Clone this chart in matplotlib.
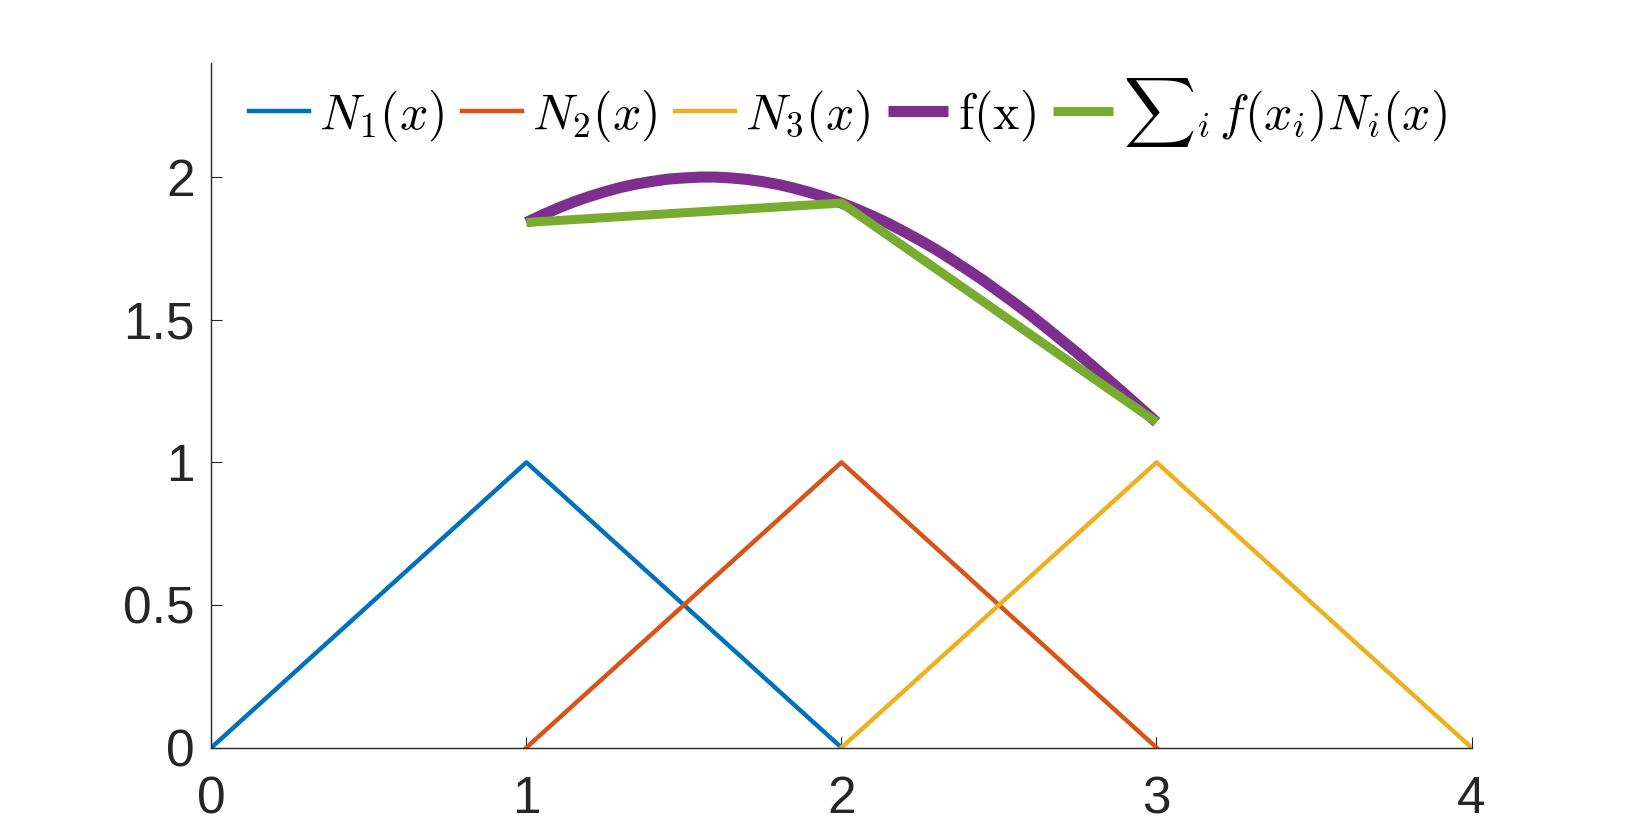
import matplotlib
matplotlib.use("Agg")
import matplotlib.pyplot as plt

# Hat basis functions (nodes and values)
n1_x = [0, 1, 2]
n1_y = [0, 1, 0]
n2_x = [1, 2, 3]
n2_y = [0, 1, 0]
n3_x = [2, 3, 4]
n3_y = [0, 1, 0]

# f(x)
f_x = [1.00, 1.05, 1.10, 1.15, 1.20, 1.25, 1.30, 1.35, 1.40, 1.45, 1.50,
       1.55, 1.60, 1.65, 1.70, 1.75, 1.80, 1.85, 1.90, 1.95, 2.00,
       2.05, 2.10, 2.15, 2.20, 2.25, 2.30, 2.35, 2.40, 2.45, 2.50,
       2.55, 2.60, 2.65, 2.70, 2.75, 2.80, 2.85, 2.90, 2.95, 3.00]
f_y = [1.841, 1.867, 1.891, 1.913, 1.932, 1.949, 1.964, 1.976, 1.985, 1.993, 1.997,
       2.000, 2.000, 1.997, 1.992, 1.984, 1.974, 1.961, 1.946, 1.929, 1.909,
       1.887, 1.863, 1.837, 1.808, 1.778, 1.746, 1.711, 1.675, 1.638, 1.598,
       1.558, 1.516, 1.472, 1.427, 1.382, 1.335, 1.287, 1.239, 1.190, 1.141]

# Interpolant values at nodes
interp_x = [1, 2, 3]
interp_y = [1.841, 1.909, 1.141]

labels = [r'$N_1(x)$', r'$N_2(x)$', r'$N_3(x)$', r'$\mathrm{f(x)}$',
          r'${\sum}_i\, f(x_i) N_i(x)$']
colors = ['#0072BD', '#D95319', '#EDB120', '#7E2F8E', '#77AC30']

xticks = [0, 1, 2, 3, 4]
yticks = [0, 0.5, 1, 1.5, 2]
ytick_labels = ['0', '0.5', '1', '1.5', '2']

plt.rcParams['mathtext.fontset'] = 'cm'
plt.rcParams['font.family'] = ['Liberation Sans', 'DejaVu Sans']

fig = plt.figure(figsize=(16.26, 8.4), dpi=100)
ax = fig.add_axes([0.13, 0.11, 0.775, 0.815])

ax.plot(n1_x, n1_y, color=colors[0], lw=3.2, label=labels[0])
ax.plot(n2_x, n2_y, color=colors[1], lw=3.2, label=labels[1])
ax.plot(n3_x, n3_y, color=colors[2], lw=3.2, label=labels[2])
ax.plot(f_x, f_y, color=colors[3], lw=8, label=labels[3], solid_capstyle='butt')
ax.plot(interp_x, interp_y, color=colors[4], lw=6.5, label=labels[4],
        solid_capstyle='butt')

ax.set_xlim(0, 4)
ax.set_ylim(0, 2.4)
ax.set_xticks(xticks)
ax.set_xticklabels([str(t) for t in xticks])
ax.set_yticks(yticks)
ax.set_yticklabels(ytick_labels)

for s in ['top', 'right']:
    ax.spines[s].set_visible(False)
for s in ['left', 'bottom']:
    ax.spines[s].set_color('#262626')
    ax.spines[s].set_linewidth(1.0)

ax.tick_params(axis='both', direction='in', length=8, width=0.8,
               colors='#262626', labelsize=37)
ax.tick_params(axis='x', pad=20)
ax.tick_params(axis='y', pad=12)

leg = ax.legend(loc='center', bbox_to_anchor=(0.505, 0.928), ncol=5, frameon=False,
                fontsize=36, handlelength=1.2, handletextpad=0.2,
                columnspacing=0.35, borderpad=0.1)

fig.savefig('out.png', dpi=100, facecolor='white')
